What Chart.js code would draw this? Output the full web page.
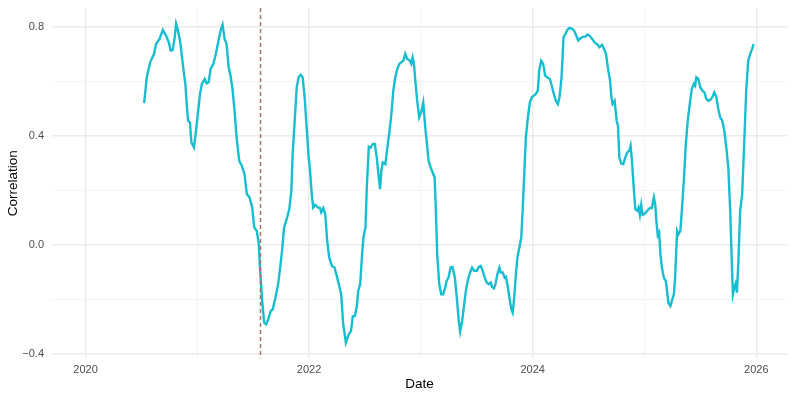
<!DOCTYPE html>
<html>
<head>
<meta charset="utf-8">
<script src="https://cdn.jsdelivr.net/npm/chart.js@4"></script>
<style>
  html, body { margin: 0; padding: 0; background: #fff; }
  #wrap { width: 793px; height: 397px; }
</style>
</head>
<body>
<div id="wrap"><canvas id="corrChart"></canvas></div>
<script>
// Date as decimal year, rolling correlation
const dates = [
  2020.524, 2020.548, 2020.578, 2020.613, 2020.631, 2020.662, 2020.691, 2020.720, 2020.745, 2020.762,
  2020.780, 2020.798, 2020.810, 2020.827, 2020.845, 2020.863, 2020.881, 2020.893, 2020.905, 2020.917,
  2020.934, 2020.947, 2020.970, 2020.988, 2021.006, 2021.024, 2021.041, 2021.066, 2021.083, 2021.101,
  2021.119, 2021.143, 2021.166, 2021.190, 2021.208, 2021.226, 2021.244, 2021.262, 2021.280, 2021.297,
  2021.315, 2021.333, 2021.351, 2021.375, 2021.398, 2021.422, 2021.443, 2021.467, 2021.491, 2021.509,
  2021.532, 2021.550, 2021.562, 2021.580, 2021.598, 2021.616, 2021.634, 2021.657, 2021.675, 2021.699,
  2021.723, 2021.741, 2021.758, 2021.776, 2021.799, 2021.823, 2021.841, 2021.853, 2021.871, 2021.889,
  2021.906, 2021.924, 2021.942, 2021.960, 2021.978, 2021.996, 2022.008, 2022.026, 2022.037, 2022.055,
  2022.079, 2022.097, 2022.109, 2022.127, 2022.144, 2022.162, 2022.180, 2022.204, 2022.227, 2022.251,
  2022.269, 2022.287, 2022.305, 2022.329, 2022.352, 2022.374, 2022.391, 2022.409, 2022.427, 2022.439,
  2022.457, 2022.474, 2022.486, 2022.504, 2022.516, 2022.534, 2022.552, 2022.570, 2022.588, 2022.605,
  2022.623, 2022.635, 2022.646, 2022.659, 2022.682, 2022.700, 2022.718, 2022.736, 2022.753, 2022.771,
  2022.789, 2022.807, 2022.825, 2022.843, 2022.860, 2022.878, 2022.896, 2022.914, 2022.926, 2022.938,
  2022.950, 2022.967, 2022.985, 2023.003, 2023.021, 2023.039, 2023.057, 2023.069, 2023.087, 2023.105,
  2023.123, 2023.134, 2023.146, 2023.164, 2023.182, 2023.199, 2023.217, 2023.230, 2023.247, 2023.265,
  2023.283, 2023.304, 2023.321, 2023.339, 2023.351, 2023.369, 2023.387, 2023.404, 2023.422, 2023.440,
  2023.458, 2023.476, 2023.500, 2023.518, 2023.535, 2023.553, 2023.571, 2023.589, 2023.607, 2023.625,
  2023.636, 2023.654, 2023.667, 2023.684, 2023.702, 2023.714, 2023.732, 2023.750, 2023.761, 2023.779,
  2023.791, 2023.809, 2023.821, 2023.832, 2023.850, 2023.863, 2023.881, 2023.898, 2023.910, 2023.922,
  2023.939, 2023.957, 2023.975, 2023.993, 2024.011, 2024.028, 2024.046, 2024.058, 2024.076, 2024.094,
  2024.112, 2024.130, 2024.153, 2024.171, 2024.189, 2024.207, 2024.225, 2024.240, 2024.258, 2024.276,
  2024.293, 2024.311, 2024.329, 2024.353, 2024.371, 2024.389, 2024.407, 2024.430, 2024.454, 2024.472,
  2024.490, 2024.507, 2024.531, 2024.555, 2024.579, 2024.597, 2024.621, 2024.638, 2024.656, 2024.674,
  2024.692, 2024.704, 2024.715, 2024.733, 2024.751, 2024.763, 2024.775, 2024.793, 2024.811, 2024.828,
  2024.846, 2024.864, 2024.876, 2024.888, 2024.906, 2024.918, 2024.935, 2024.947, 2024.959, 2024.971,
  2024.983, 2025.000, 2025.025, 2025.049, 2025.066, 2025.084, 2025.096, 2025.108, 2025.119, 2025.131,
  2025.143, 2025.156, 2025.173, 2025.191, 2025.202, 2025.214, 2025.232, 2025.245, 2025.263, 2025.274,
  2025.292, 2025.304, 2025.321, 2025.334, 2025.352, 2025.370, 2025.387, 2025.405, 2025.423, 2025.441,
  2025.453, 2025.464, 2025.482, 2025.500, 2025.518, 2025.536, 2025.553, 2025.571, 2025.589, 2025.607,
  2025.625, 2025.643, 2025.660, 2025.678, 2025.696, 2025.714, 2025.732, 2025.750, 2025.767, 2025.780,
  2025.791, 2025.803, 2025.815, 2025.827, 2025.839, 2025.856, 2025.874, 2025.892, 2025.910, 2025.928,
  2025.946, 2025.963, 2025.976
];
const correlation = [
  0.519, 0.614, 0.669, 0.700, 0.736, 0.755, 0.788, 0.767, 0.742, 0.712,
  0.714, 0.761, 0.810, 0.785, 0.749, 0.687, 0.626, 0.590, 0.516, 0.455,
  0.449, 0.375, 0.357, 0.418, 0.486, 0.553, 0.590, 0.608, 0.592, 0.596,
  0.645, 0.663, 0.700, 0.749, 0.785, 0.807, 0.755, 0.736, 0.651, 0.620,
  0.571, 0.492, 0.394, 0.308, 0.290, 0.259, 0.186, 0.174, 0.137, 0.064,
  0.051, 0.003, -0.095, -0.205, -0.285, -0.291, -0.273, -0.242, -0.236, -0.193,
  -0.144, -0.083, -0.022, 0.064, 0.094, 0.131, 0.198, 0.333, 0.455, 0.577,
  0.614, 0.623, 0.614, 0.541, 0.430, 0.320, 0.272, 0.174, 0.137, 0.147,
  0.137, 0.135, 0.119, 0.135, 0.113, 0.015, -0.047, -0.077, -0.083, -0.120,
  -0.150, -0.181, -0.291, -0.358, -0.330, -0.316, -0.261, -0.261, -0.224, -0.169,
  -0.144, -0.034, 0.027, 0.064, 0.210, 0.360, 0.357, 0.370, 0.370, 0.320,
  0.247, 0.204, 0.272, 0.302, 0.296, 0.357, 0.412, 0.480, 0.565, 0.614,
  0.645, 0.663, 0.669, 0.675, 0.700, 0.681, 0.678, 0.663, 0.687, 0.663,
  0.602, 0.528, 0.467, 0.486, 0.522, 0.430, 0.357, 0.308, 0.284, 0.265,
  0.247, 0.125, -0.034, -0.144, -0.181, -0.181, -0.157, -0.132, -0.120, -0.083,
  -0.081, -0.120, -0.193, -0.279, -0.318, -0.279, -0.218, -0.163, -0.126, -0.101,
  -0.083, -0.095, -0.095, -0.081, -0.077, -0.095, -0.120, -0.138, -0.144, -0.138,
  -0.154, -0.159, -0.144, -0.108, -0.083, -0.101, -0.101, -0.120, -0.117, -0.157,
  -0.193, -0.236, -0.248, -0.205, -0.108, -0.047, -0.010, 0.027, 0.125, 0.235,
  0.394, 0.467, 0.522, 0.541, 0.547, 0.553, 0.565, 0.639, 0.675, 0.663,
  0.620, 0.614, 0.608, 0.583, 0.553, 0.528, 0.516, 0.541, 0.614, 0.761,
  0.773, 0.788, 0.795, 0.792, 0.785, 0.767, 0.749, 0.758, 0.763, 0.763,
  0.771, 0.767, 0.755, 0.742, 0.734, 0.724, 0.733, 0.718, 0.700, 0.645,
  0.602, 0.541, 0.516, 0.528, 0.455, 0.437, 0.320, 0.298, 0.296, 0.320,
  0.339, 0.345, 0.363, 0.308, 0.198, 0.131, 0.125, 0.137, 0.110, 0.146,
  0.110, 0.113, 0.125, 0.135, 0.135, 0.174, 0.149, 0.080, 0.035, 0.045,
  -0.034, -0.083, -0.120, -0.132, -0.169, -0.212, -0.224, -0.205, -0.181, -0.120,
  0.051, 0.039, 0.051, 0.125, 0.235, 0.370, 0.455, 0.516, 0.571, 0.590,
  0.583, 0.614, 0.608, 0.577, 0.565, 0.559, 0.535, 0.528, 0.532, 0.541,
  0.559, 0.541, 0.498, 0.467, 0.455, 0.418, 0.357, 0.284, 0.125, -0.047,
  -0.181, -0.157, -0.142, -0.175, -0.071, 0.125, 0.186, 0.370, 0.565, 0.675,
  0.700, 0.718, 0.736
];

// axis ticks
const xTicks = [2020, 2021, 2022, 2023, 2024, 2025, 2026];
const xLabelTicks = [2020, 2022, 2024, 2026];
const yTicks = [-0.4, -0.2, 0.0, 0.2, 0.4, 0.6, 0.8];
const yLabelTicks = [-0.4, 0.0, 0.4, 0.8];

// date of the event marked by the dashed line
const eventDate = 2021.559;

const lineColor = "#17BECF";
const gridMajor = "#EBEBEB";
const gridMinor = "#F3F3F3";

// dashed vertical marker
const eventLine = {
  id: "eventLine",
  afterDatasetsDraw(chart) {
    const { ctx, chartArea, scales } = chart;
    const x = Math.round(scales.x.getPixelForValue(eventDate)) + 0.5;
    ctx.save();
    ctx.strokeStyle = "#A5746C";
    ctx.lineWidth = 1.5;
    ctx.setLineDash([4, 3]);
    ctx.beginPath();
    ctx.moveTo(x, chartArea.top);
    ctx.lineTo(x, chartArea.bottom);
    ctx.stroke();
    ctx.restore();
  },
};

const points = dates.map((d, i) => ({ x: d, y: correlation[i] }));

const ctx = document.getElementById("corrChart").getContext("2d");
new Chart(ctx, {
  type: "line",
  data: {
    datasets: [
      {
        label: "Correlation",
        data: points,
        borderColor: lineColor,
        borderWidth: 2.4,
        pointRadius: 0,
        tension: 0,
        fill: false,
      },
    ],
  },
  options: {
    responsive: true,
    maintainAspectRatio: false,
    animation: false,
    layout: { padding: { top: 8, right: 6, bottom: 0, left: 0 } },
    plugins: {
      legend: { display: false },
      tooltip: { enabled: false },
    },
    scales: {
      x: {
        type: "linear",
        min: 2019.70,
        max: 2026.275,
        afterBuildTicks: (scale) => {
          scale.ticks = xTicks.map((v) => ({ value: v }));
        },
        afterFit: (scale) => {
          scale.height = 38.6;
          scale.paddingLeft = 0;
          scale.paddingRight = 0;
        },
        border: { display: false },
        grid: {
          drawTicks: false,
          color: (c) => (xLabelTicks.includes(c.tick.value) ? gridMajor : gridMinor),
          lineWidth: (c) => (xLabelTicks.includes(c.tick.value) ? 1.4 : 0.8),
        },
        ticks: {
          autoSkip: false,
          maxRotation: 0,
          padding: 5,
          color: "#4D4D4D",
          font: { family: "Liberation Sans, Arial, sans-serif", size: 11 },
          callback: (v) => (xLabelTicks.includes(v) ? String(v) : ""),
        },
        title: {
          display: true,
          text: "Date",
          color: "#000000",
          padding: { top: 0, bottom: 5 },
          font: { family: "Liberation Sans, Arial, sans-serif", size: 13.5 },
        },
      },
      y: {
        type: "linear",
        min: -0.416,
        max: 0.868,
        afterBuildTicks: (scale) => {
          scale.ticks = yTicks.map((v) => ({ value: v }));
        },
        afterFit: (scale) => {
          scale.width = 52;
          scale.paddingTop = 0;
          scale.paddingBottom = 0;
        },
        border: { display: false },
        grid: {
          drawTicks: false,
          color: (c) => (yLabelTicks.some((t) => Math.abs(t - c.tick.value) < 1e-9) ? gridMajor : gridMinor),
          lineWidth: (c) => (yLabelTicks.some((t) => Math.abs(t - c.tick.value) < 1e-9) ? 1.4 : 0.8),
        },
        ticks: {
          autoSkip: false,
          padding: 8,
          color: "#4D4D4D",
          font: { family: "Liberation Sans, Arial, sans-serif", size: 11 },
          callback: (v) => {
            if (!yLabelTicks.some((t) => Math.abs(t - v) < 1e-9)) return "";
            const s = Math.abs(v).toFixed(1);
            return v < -1e-9 ? "\u2212" + s : s;
          },
        },
        title: {
          display: true,
          text: "Correlation",
          color: "#000000",
          padding: { top: 5, bottom: 0 },
          font: { family: "Liberation Sans, Arial, sans-serif", size: 13.5 },
        },
      },
    },
  },
  plugins: [eventLine],
});
</script>
</body>
</html>
